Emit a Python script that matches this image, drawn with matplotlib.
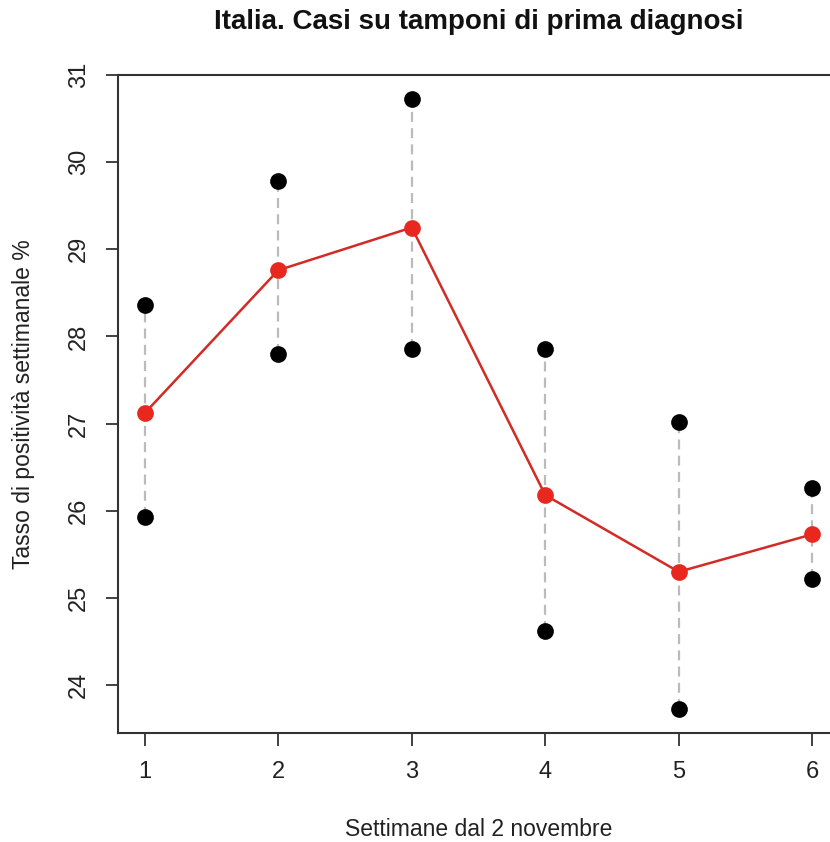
import matplotlib
matplotlib.use("Agg")
import matplotlib.pyplot as plt

# Weekly positivity rate (%) on first-diagnosis swabs, Italy
weeks = [1, 2, 3, 4, 5, 6]
upper = [28.36, 29.78, 30.72, 27.86, 27.02, 26.26]
rate = [27.12, 28.76, 29.25, 26.18, 25.30, 25.73]
lower = [25.93, 27.80, 27.86, 24.62, 23.73, 25.22]
x_ticks = [1, 2, 3, 4, 5, 6]
y_ticks = [24, 25, 26, 27, 28, 29, 30, 31]

plt.rcParams["font.family"] = ["Liberation Sans", "DejaVu Sans"]

W, H = 830, 842
fig = plt.figure(figsize=(W / 100, H / 100), dpi=100)
left, right, top, bottom = 118, 839, 75, 733
ax = fig.add_axes([left / W, (H - bottom) / H, (right - left) / W, (bottom - top) / H])

# dashed range segments
for x, lo, hi in zip(weeks, lower, upper):
    ax.plot([x, x], [lo, hi], color="#bbbbbb", lw=1.6, dashes=(4.5, 2.8), zorder=1)

ax.plot(weeks, rate, color="#d42a25", lw=1.8, zorder=2)
ax.scatter(weeks, upper, s=145, color="black", zorder=3, linewidths=0)
ax.scatter(weeks, lower, s=145, color="black", zorder=3, linewidths=0)
ax.scatter(weeks, rate, s=145, color="#e8281e", zorder=4, linewidths=0)

lo_all = min(lower)
hi_all = max(upper)
pad = 0.04 * (hi_all - lo_all)
ax.set_ylim(lo_all - pad, hi_all + pad)
ax.set_xlim(0.8, 6.2)

ax.set_xticks(x_ticks)
ax.set_yticks(y_ticks)
ax.set_xticklabels([str(v) for v in x_ticks])
ax.set_yticklabels([str(v) for v in y_ticks], rotation=90, va="center")
ax.tick_params(axis="both", direction="out", length=9, width=1.3, colors="#333333",
               labelsize=17, labelcolor="#222222", pad=11)

for s in ax.spines.values():
    s.set_linewidth(1.5)
    s.set_color("#333333")

fig.text((left + right) / 2 / W, 1 - 22 / H, "Italia. Casi su tamponi di prima diagnosi",
         ha="center", va="center", fontsize=20, fontweight="bold", color="#111111")
fig.text((left + right) / 2 / W, 1 - 830 / H, "Settimane dal 2 novembre",
         ha="center", va="center", fontsize=16.5, color="#222222")
fig.text(24 / W, 1 - (top + bottom) / 2 / H, "Tasso di positività settimanale %",
         ha="center", va="center", rotation=90, fontsize=16.5, color="#222222")

fig.savefig("out.png", dpi=100)
